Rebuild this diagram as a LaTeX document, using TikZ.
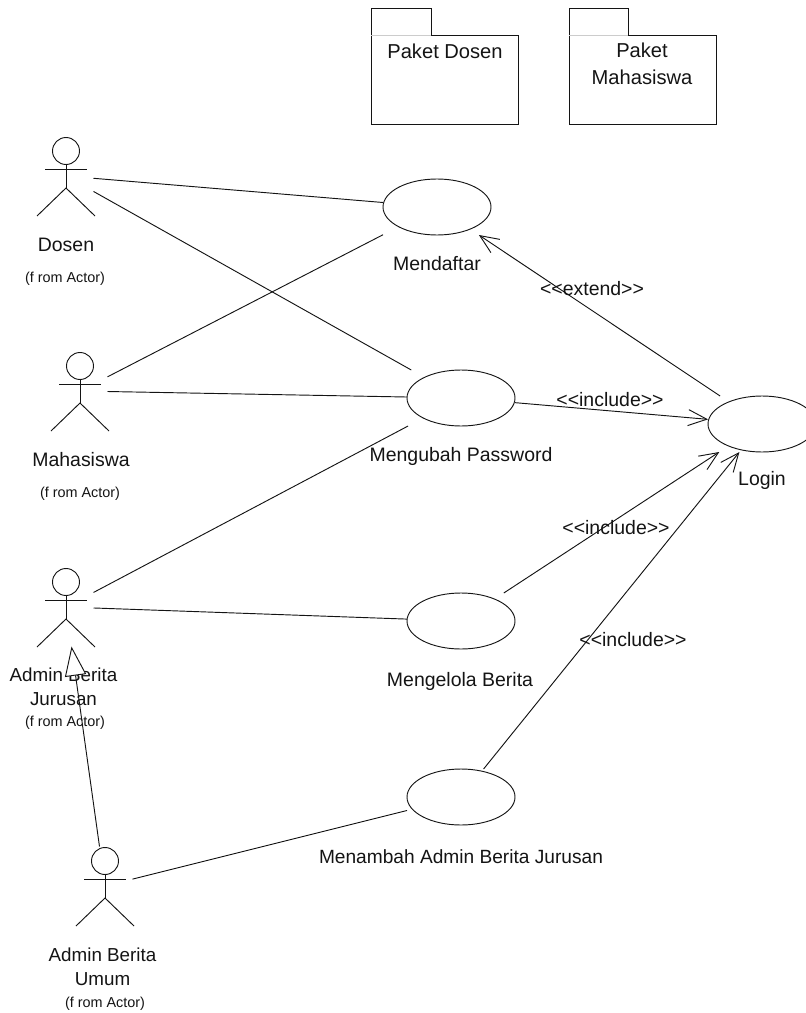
\documentclass[tikz,border=0pt]{standalone}
\usepackage{fontspec}
\setmainfont{Liberation Sans}
\usetikzlibrary{arrows.meta,shapes.geometric}
\definecolor{inkc}{RGB}{20,20,20}
\tikzset{
  x=0.75pt,y=-0.75pt,
  every path/.style={line width=0.7pt},
  every node/.style={line width=0.7pt},
  ucbox/.style={rectangle,minimum width=81pt,minimum height=42pt,inner sep=0pt,outer sep=0pt},
  ucshape/.style={ellipse,draw=inkc,minimum width=81pt,minimum height=42pt,inner sep=0pt,outer sep=0pt},
  actorbox/.style={rectangle,minimum width=41.25pt,minimum height=59.25pt,inner sep=0pt,outer sep=0pt},
  txt/.style={inner sep=0pt,outer sep=0pt,text=inkc,font=\fontsize{14.6pt}{18pt}\selectfont,align=center},
  nametxt/.style={txt,font=\fontsize{14.1pt}{18pt}\selectfont},
  pkgtxt/.style={txt,font=\fontsize{15.1pt}{20pt}\selectfont},
  small/.style={inner sep=0pt,outer sep=0pt,text=inkc,font=\fontsize{10.8pt}{12pt}\selectfont},
  assoc/.style={draw=inkc},
  dep/.style={draw=inkc,-{Straight Barb[length=14pt,width=12pt]}},
  gen/.style={draw=inkc,-{Triangle[fill=white,length=22pt,width=16pt]}},
  pkg/.style={rectangle,draw=inkc,minimum width=110.25pt,minimum height=66.75pt,inner sep=0pt,outer sep=0pt},
  actor/.pic={
    \draw[inkc] (0,-25) circle[radius=13.5];
    \draw[inkc] (-21,-6.3) -- (21,-6.3);
    \draw[inkc] (0,-11.5) -- (0,12);
    \draw[inkc] (-29,40) -- (0,12) -- (29,40);
  }
}
\begin{document}
\begin{tikzpicture}
\useasboundingbox (0,0) rectangle (806,1013);
% packages
\node[pkg] (pd) at (444.5,79.5) {};
\draw[inkc] (371,35) -- (371,8) -- (431,8) -- (431,35);
\draw[gray!40] (371,35) -- (431,35);
\node[pkgtxt] (pdt) at (445,51) {Paket Dosen};
\node[pkg] (pm) at (642.5,79.5) {};
\draw[inkc] (569,35) -- (569,8) -- (628,8) -- (628,35);
\draw[gray!40] (569,35) -- (628,35);
\node[pkgtxt] (pmt) at (642,64) {Paket\\Mahasiswa};
% actors
\node[actorbox] (dosen) at (66,176) {};
\pic at (dosen) {actor};
\node[actorbox] (mhs) at (80,391) {};
\pic at (mhs) {actor};
\node[actorbox] (adminj) at (66,607) {};
\pic at (adminj) {actor};
\node[actorbox] (adminu) at (105,886) {};
\pic at (adminu) {actor};
% use cases
\node[ucbox] (daftar) at (437,207) {};
\node[ucshape] (daftarE) at (daftar) {};
\node[ucbox] (ubah) at (461,398) {};
\node[ucshape] (ubahE) at (ubah) {};
\node[ucbox] (kelola) at (461,621) {};
\node[ucshape] (kelolaE) at (kelola) {};
\node[ucbox] (tambah) at (461,797) {};
\node[ucshape] (tambahE) at (tambah) {};
\node[ucbox] (login) at (762,424) {};
\node[ucshape] (loginE) at (login) {};
% labels
\node[txt] (l1) at (66,245) {Dosen};
\node[small] (f1) at (65,279) {(f rom Actor)};
\node[txt] (l2) at (81,460) {Mahasiswa};
\node[small] (f2) at (80,494) {(f rom Actor)};
\node[nametxt] (l3) at (63.5,687) {Admin Berita\\Jurusan};
\node[small] (f3) at (65,723) {(f rom Actor)};
\node[nametxt] (l4) at (102.5,967) {Admin Berita\\Umum};
\node[small] (f4) at (105,1004) {(f rom Actor)};
\node[txt] (u1) at (437,264) {Mendaftar};
\node[txt] (u2) at (461,456) {Mengubah Password};
\node[txt] (u3) at (460,681) {Mengelola Berita};
\node[txt,font=\fontsize{14.35pt}{18pt}\selectfont] (u4) at (461,857) {Menambah Admin Berita Jurusan};
\node[txt] (u5) at (762,480) {Login};
% connectors
\draw[assoc] (dosen) -- (daftar);
\draw[assoc] (dosen) -- (ubah);
\draw[assoc] (mhs) -- (daftar);
\draw[assoc] (mhs) -- (ubah);
\draw[assoc] (adminj) -- (ubah);
\draw[assoc] (adminj) -- (kelola);
\draw[assoc] (adminu) -- (tambah);
\draw[gen] (adminu) -- (adminj);
\draw[dep] (login) -- (daftar);
\draw[dep] (ubah) -- (login);
\draw[dep] (kelola) -- (login);
\draw[dep] (tambah) -- (login);
% connector labels
\node[txt] (c1) at (592,289) {<{}<extend>{}>};
\node[txt] (c2) at (610,400) {<{}<include>{}>};
\node[txt] (c3) at (616,528) {<{}<include>{}>};
\node[txt] (c4) at (633,640) {<{}<include>{}>};
\end{tikzpicture}
\end{document}
